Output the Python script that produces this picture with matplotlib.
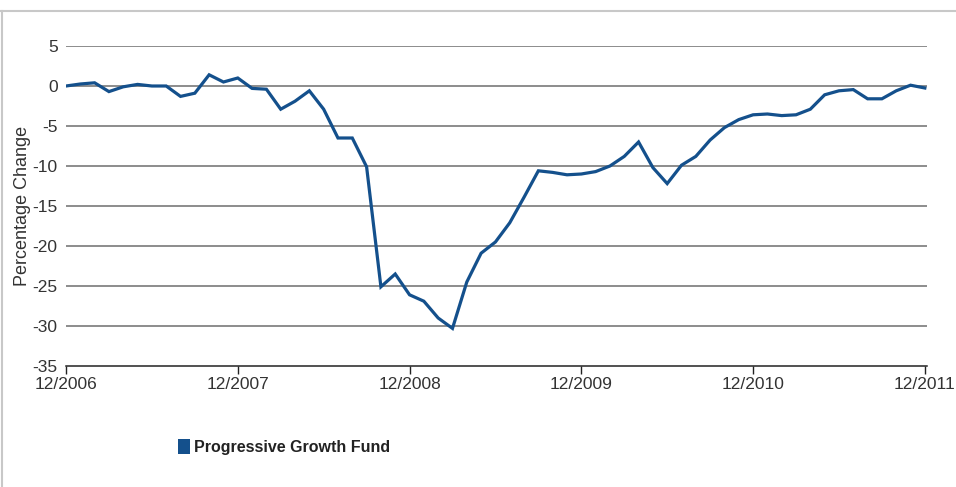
import numpy as np
import matplotlib.pyplot as plt
from matplotlib.lines import Line2D
from matplotlib.patches import Patch

plt.rcParams['font.family'] = ['Liberation Sans', 'DejaVu Sans']
plt.rcParams['axes.unicode_minus'] = False

# monthly percentage change, 12/2006 .. 12/2011
months = np.arange(61)
values = [0.0, 0.25, 0.4, -0.7, -0.1, 0.2, 0.0, 0.0, -1.3, -0.9,
          1.4, 0.5, 1.0, -0.3, -0.4, -2.9, -1.9, -0.6, -2.9, -6.5,
          -6.5, -10.1, -25.1, -23.5, -26.1, -26.9, -29.0, -30.3, -24.5, -20.9,
          -19.5, -17.1, -13.9, -10.6, -10.8, -11.1, -11.0, -10.7, -10.0, -8.8,
          -7.0, -10.2, -12.2, -9.9, -8.8, -6.75, -5.2, -4.2, -3.6, -3.5,
          -3.7, -3.6, -2.9, -1.1, -0.6, -0.45, -1.6, -1.6, -0.6, 0.1,
          -0.25]
tick_pos = [0, 12, 24, 36, 48, 60]
tick_labels = ['12/2006', '12/2007', '12/2008', '12/2009', '12/2010', '12/2011']
y_ticks = [5, 0, -5, -10, -15, -20, -25, -30, -35]

line_color = '#14508c'
text_color = '#333333'

fig = plt.figure(figsize=(9.56, 4.87), dpi=100)
W, H = 956, 487
ax = fig.add_axes([66 / W, 1 - 366 / H, (927 - 66) / W, (366 - 46) / H])

for yv in y_ticks[:-1]:
    ax.axhline(yv, color='#6e6e6e', lw=1.1, zorder=1)
ax.plot(months, values, color=line_color, lw=2.3, zorder=3, solid_joinstyle='miter')

ax.set_xlim(0, 60.15)
ax.set_ylim(-35, 5)
ax.set_yticks(y_ticks)
ax.set_xticks(tick_pos)
ax.set_xticklabels(tick_labels)

for s in ['top', 'right', 'left']:
    ax.spines[s].set_visible(False)
ax.spines['bottom'].set_color('#222222')
ax.spines['bottom'].set_linewidth(1.1)
ax.tick_params(axis='x', direction='out', length=6, width=1, color='#222222',
               labelsize=12.5, labelcolor=text_color, pad=2)
ax.tick_params(axis='y', length=0, labelsize=12.5, labelcolor=text_color, pad=6)
ax.set_ylabel('Percentage Change', fontsize=13, color=text_color)
ax.yaxis.set_label_coords((31 - 66) / 861, 0.5)

handles = [Patch(facecolor=line_color, edgecolor='none')]
fig.legend(handles, ['Progressive Growth Fund'], loc='center left',
           bbox_to_anchor=(164 / W, 1 - 447 / H), frameon=False,
           prop={'weight': 'bold', 'size': 11.5}, handlelength=0.7,
           handleheight=1.1, handletextpad=0.3, labelcolor='#222222')

# outer frame
fig.add_artist(Line2D([0, 1], [1 - 11 / H] * 2, color='#c8c8c8', lw=1.5))
fig.add_artist(Line2D([1.5 / W] * 2, [0, 1 - 11 / H], color='#c8c8c8', lw=1.5))

fig.savefig('out.png', dpi=100)
